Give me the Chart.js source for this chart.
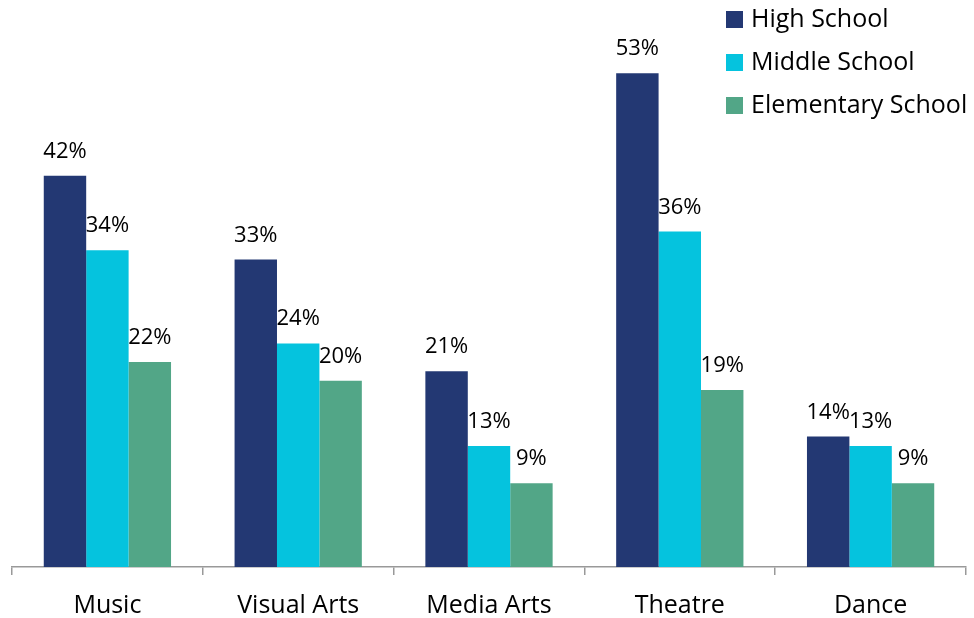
<!DOCTYPE html>
<html>
<head>
<meta charset="utf-8">
<title>Arts courses by school level</title>
<script src="https://cdn.jsdelivr.net/npm/chart.js@4.4.1/dist/chart.umd.min.js"></script>
<style>
  html, body { margin: 0; padding: 0; background: #fff; }
  #chart { display: block; }
</style>
</head>
<body>
<canvas id="chart" width="974" height="618"></canvas>
<script>
// percentages per arts discipline and school level
var categories = ['Music', 'Visual Arts', 'Media Arts', 'Theatre', 'Dance'];
var highSchool = [42, 33, 21, 53, 14];
var middleSchool = [34, 24, 13, 36, 13];
var elementarySchool = [22, 20, 9, 19, 9];

var FONT = '"Open Sans", Lato, sans-serif';

// value label above every bar
var barLabels = {
  id: 'barLabels',
  afterDatasetsDraw: function (chart) {
    var ctx = chart.ctx;
    ctx.save();
    ctx.font = '22px ' + FONT;
    ctx.fillStyle = '#000';
    ctx.textAlign = 'center';
    ctx.textBaseline = 'alphabetic';
    chart.data.datasets.forEach(function (ds, i) {
      chart.getDatasetMeta(i).data.forEach(function (bar, j) {
        ctx.fillText(ds.data[j] + '%', bar.x, bar.y - 18);
      });
    });
    ctx.restore();
  }
};

// legend drawn over the top right of the plot
var cornerLegend = {
  id: 'cornerLegend',
  afterDraw: function (chart) {
    var ctx = chart.ctx;
    ctx.save();
    ctx.font = '25px ' + FONT;
    ctx.textAlign = 'left';
    ctx.textBaseline = 'middle';
    chart.data.datasets.forEach(function (ds, i) {
      var y = 19.5 + i * 43;
      ctx.fillStyle = ds.backgroundColor;
      ctx.fillRect(726, y - 8.5, 17, 17);
      ctx.fillStyle = '#000';
      ctx.fillText(ds.label, 751, y);
    });
    ctx.restore();
  }
};

new Chart(document.getElementById('chart'), {
  type: 'bar',
  data: {
    labels: categories,
    datasets: [
      { label: 'High School', data: highSchool, backgroundColor: '#233873' },
      { label: 'Middle School', data: middleSchool, backgroundColor: '#05C3DE' },
      { label: 'Elementary School', data: elementarySchool, backgroundColor: '#52A687' }
    ]
  },
  options: {
    responsive: false,
    animation: false,
    layout: { padding: { left: 12, right: 8, top: 8, bottom: -19 } },
    datasets: {
      bar: { categoryPercentage: 0.667, barPercentage: 1 }
    },
    plugins: {
      legend: { display: false },
      tooltip: { enabled: false }
    },
    scales: {
      x: {
        grid: {
          offset: true,
          drawOnChartArea: false,
          drawTicks: true,
          tickLength: 8,
          color: '#999',
          lineWidth: 1.5
        },
        border: { color: '#999', width: 1.5 },
        ticks: {
          color: '#000',
          padding: 16,
          font: { family: FONT, size: 25 }
        }
      },
      y: {
        display: false,
        min: 0,
        max: 60
      }
    }
  },
  plugins: [barLabels, cornerLegend]
});
</script>
</body>
</html>
